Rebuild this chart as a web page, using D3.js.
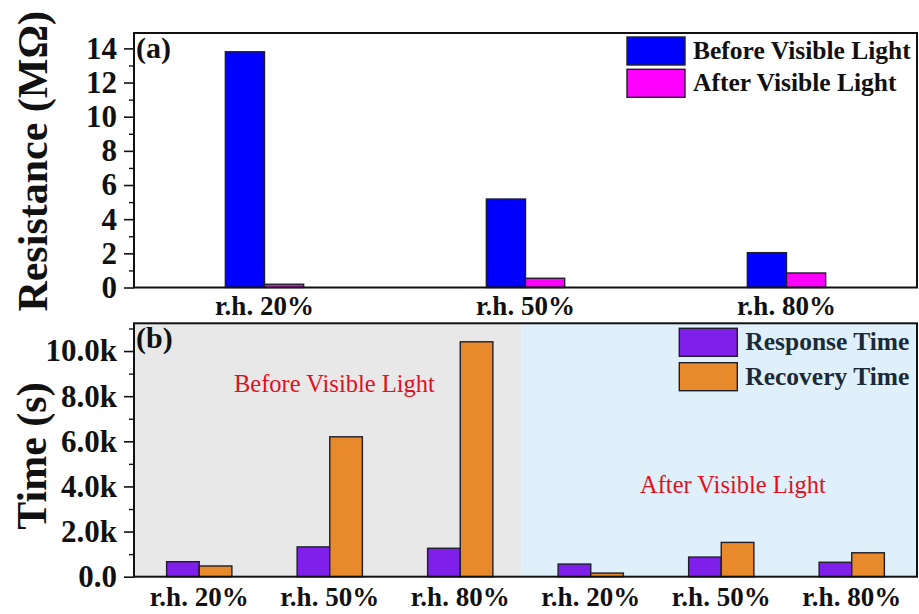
<!DOCTYPE html>
<html>
<head>
<meta charset="utf-8">
<script src="https://cdn.jsdelivr.net/npm/d3@7"></script>
<style>
  body { margin: 0; background: #fff; }
  svg { display: block; }
  text { font-family: "Liberation Serif", "Times New Roman", serif; }
</style>
</head>
<body>
<svg id="chart" width="919" height="614"></svg>
<script>
// ---- data ----
const humidity = ["r.h. 20%", "r.h. 50%", "r.h. 80%"];
const resistanceBefore = [13.8, 5.18, 2.04];     // MΩ, before visible light
const resistanceAfter = [0.19, 0.54, 0.85];      // MΩ, after visible light
const resistanceTicks = [0, 2, 4, 6, 8, 10, 12, 14];
const resistanceMinor = [1, 3, 5, 7, 9, 11, 13];

const timeGroups = ["Before Visible Light", "After Visible Light"];
const timeLabels = ["r.h. 20%", "r.h. 50%", "r.h. 80%", "r.h. 20%", "r.h. 50%", "r.h. 80%"];
const responseTime = [665, 1320, 1260, 560, 870, 640];     // s
const recoveryTime = [475, 6200, 10410, 160, 1520, 1060];  // s
const timeTicks = [0, 2000, 4000, 6000, 8000, 10000];
const timeMinor = [1000, 3000, 5000, 7000, 9000, 11000];

const resistanceSeries = ["Before Visible Light", "After Visible Light"];
const timeSeries = ["Response Time", "Recovery Time"];

// ---- styling ----
const colors = {
  before: "#0000ff", after: "#ff00ff",
  response: "#7f1fea", recovery: "#e8892b",
  outline: "#1e1e2a", grayBg: "#e8e8e8", blueBg: "#e0f0fa",
  note: "#e0101e", legendB: "#1b2a38"
};
const serif = '"Liberation Serif", "Times New Roman", serif';

const svg = d3.select("#chart");
const left = 134, right = 917;

function drawYAxis(g, y, ticks, minor, fmt) {
  const major = d3.axisLeft(y).tickValues(ticks).tickSize(10).tickPadding(7).tickFormat(fmt);
  const ax = g.append("g").attr("transform", `translate(${left},0)`).call(major);
  ax.select(".domain").remove();
  ax.selectAll(".tick line").attr("stroke", "#111").attr("stroke-width", 1.6);
  ax.selectAll(".tick text")
    .attr("font-family", serif).attr("font-weight", "bold")
    .attr("font-size", 31).attr("fill", "#111");
  const mn = g.append("g").attr("transform", `translate(${left},0)`)
    .call(d3.axisLeft(y).tickValues(minor).tickSize(5).tickFormat(""));
  mn.select(".domain").remove();
  mn.selectAll(".tick line").attr("stroke", "#111").attr("stroke-width", 1.4);
}

function drawXAxis(g, x, y0, fmt, pad) {
  const ax = g.append("g").attr("transform", `translate(0,${y0})`)
    .call(d3.axisBottom(x).tickSize(0).tickPadding(pad).tickFormat(fmt));
  ax.select(".domain").remove();
  ax.selectAll(".tick text")
    .attr("font-family", serif).attr("font-weight", "bold")
    .attr("font-size", 27).attr("fill", "#111");
}

function legend(g, x0, y0, items, textColor, rowGap) {
  items.forEach((it, i) => {
    const yy = y0 + i * rowGap;
    g.append("rect").attr("x", x0).attr("y", yy).attr("width", 58).attr("height", 28)
      .attr("fill", it.color).attr("stroke", colors.outline).attr("stroke-width", 1.4);
    g.append("text").attr("x", x0 + 66).attr("y", yy + 22)
      .attr("font-family", serif).attr("font-weight", "bold").attr("font-size", 25.5)
      .attr("fill", textColor).text(it.label);
  });
}

// ================= panel (a): resistance =================
{
  const top = 33, bottom = 287.5;
  const g = svg.append("g");
  const x = d3.scaleBand().domain(humidity).range([left, right]);
  const y = d3.scaleLinear().domain([0, 14.9]).range([bottom, top]);
  const bw = x.bandwidth() * 0.15;

  g.append("rect").attr("x", left).attr("y", top).attr("width", right - left).attr("height", bottom - top)
    .attr("fill", "#fff");

  humidity.forEach((h, i) => {
    const cx = x(h) + x.bandwidth() / 2;
    g.append("rect").attr("x", cx - bw).attr("y", y(resistanceBefore[i]))
      .attr("width", bw).attr("height", y(0) - y(resistanceBefore[i]))
      .attr("fill", colors.before).attr("stroke", colors.outline).attr("stroke-width", 1.4);
    g.append("rect").attr("x", cx).attr("y", y(resistanceAfter[i]))
      .attr("width", bw).attr("height", y(0) - y(resistanceAfter[i]))
      .attr("fill", colors.after).attr("stroke", colors.outline).attr("stroke-width", 1.4);
  });

  g.append("rect").attr("x", left).attr("y", top).attr("width", right - left).attr("height", bottom - top)
    .attr("fill", "none").attr("stroke", "#111").attr("stroke-width", 2);

  drawYAxis(g, y, resistanceTicks, resistanceMinor, d3.format("d"));
  drawXAxis(g, x, bottom, d => d, 8);

  g.append("text").attr("x", left + 2).attr("y", top + 25)
    .attr("font-family", serif).attr("font-weight", "bold").attr("font-size", 30).attr("fill", "#111")
    .text("(a)");

  g.append("text").attr("transform", `translate(47,${(top + bottom) / 2 + 1}) rotate(-90)`)
    .attr("text-anchor", "middle").attr("font-family", serif).attr("font-weight", "bold")
    .attr("font-size", 42).attr("fill", "#111").text("Resistance (MΩ)");

  legend(g, 627, 37, [
    { label: resistanceSeries[0], color: colors.before },
    { label: resistanceSeries[1], color: colors.after }
  ], "#111", 32.3);
}

// ================= panel (b): response / recovery time =================
{
  const top = 323.3, bottom = 576.7;
  const g = svg.append("g");
  const idx = d3.range(timeLabels.length);
  const x = d3.scaleBand().domain(idx).range([left, right]);
  const y = d3.scaleLinear().domain([0, 11230]).range([bottom, top]);
  const bw = x.bandwidth() * 0.25;

  // shaded halves: before / after illumination
  const split = x(3) - 4;
  g.append("rect").attr("x", left).attr("y", top).attr("width", split - left).attr("height", bottom - top)
    .attr("fill", colors.grayBg);
  g.append("rect").attr("x", split).attr("y", top).attr("width", right - split).attr("height", bottom - top)
    .attr("fill", colors.blueBg);

  idx.forEach(i => {
    const cx = x(i) + x.bandwidth() / 2;
    g.append("rect").attr("x", cx - bw).attr("y", y(responseTime[i]))
      .attr("width", bw).attr("height", y(0) - y(responseTime[i]))
      .attr("fill", colors.response).attr("stroke", colors.outline).attr("stroke-width", 1.4);
    g.append("rect").attr("x", cx).attr("y", y(recoveryTime[i]))
      .attr("width", bw).attr("height", y(0) - y(recoveryTime[i]))
      .attr("fill", colors.recovery).attr("stroke", colors.outline).attr("stroke-width", 1.4);
  });

  g.append("rect").attr("x", left).attr("y", top).attr("width", right - left).attr("height", bottom - top)
    .attr("fill", "none").attr("stroke", "#111").attr("stroke-width", 2);

  drawYAxis(g, y, timeTicks, timeMinor, d => d === 0 ? "0.0" : (d / 1000).toFixed(1) + "k");
  drawXAxis(g, x, bottom, i => timeLabels[i], 10);

  g.append("text").attr("x", left + 2).attr("y", top + 25)
    .attr("font-family", serif).attr("font-weight", "bold").attr("font-size", 30).attr("fill", "#111")
    .text("(b)");

  g.append("text").attr("transform", `translate(46,${(top + bottom) / 2 + 6}) rotate(-90)`)
    .attr("text-anchor", "middle").attr("font-family", serif).attr("font-weight", "bold")
    .attr("font-size", 42).attr("fill", "#111").text("Time (s)");

  g.append("text").attr("x", 234).attr("y", 391.7)
    .attr("font-family", serif).attr("font-size", 24.5).attr("fill", colors.note).text(timeGroups[0]);
  g.append("text").attr("x", 640).attr("y", 492.7)
    .attr("font-family", serif).attr("font-size", 24.5).attr("fill", colors.note).text(timeGroups[1]);

  legend(g, 679.3, 328.3, [
    { label: timeSeries[0], color: colors.response },
    { label: timeSeries[1], color: colors.recovery }
  ], colors.legendB, 34.4);
}
</script>
</body>
</html>
